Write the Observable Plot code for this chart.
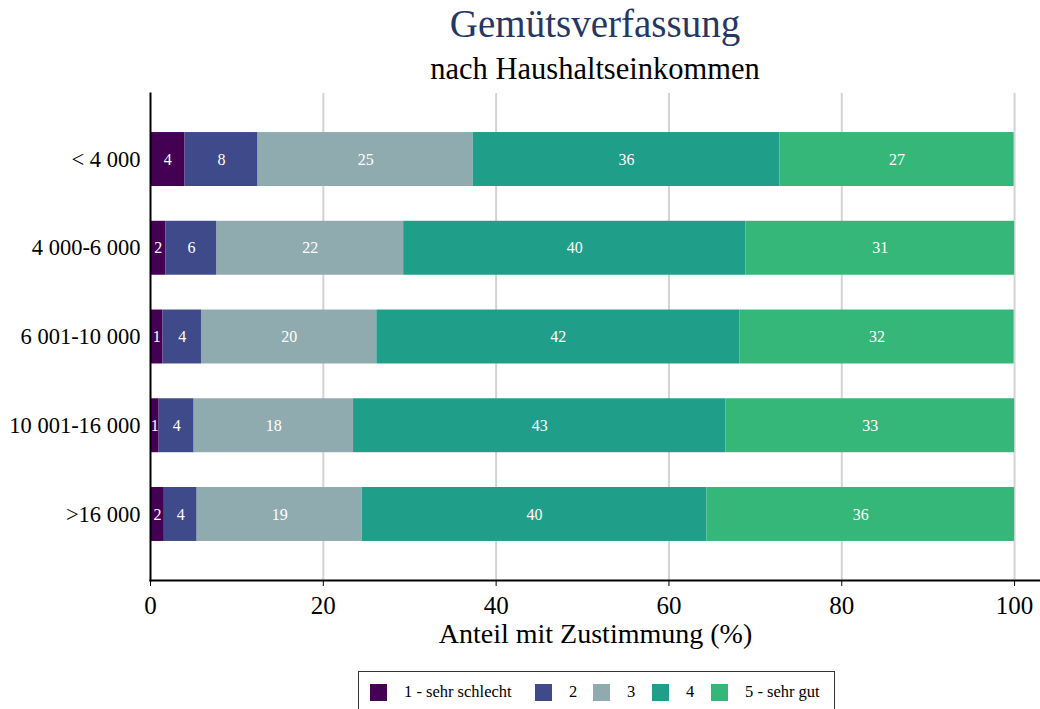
<!DOCTYPE html>
<html><head><meta charset="utf-8">
<script src="https://cdn.jsdelivr.net/npm/d3@7"></script>
<script src="https://cdn.jsdelivr.net/npm/@observablehq/plot@0.6"></script>
<style>
body{margin:0;background:#fff;font-family:"Liberation Serif",serif;color:#000;}
#wrap{width:1040px;}
#title{height:48px;line-height:48px;font-size:39px;color:#263766;text-align:center;padding-left:150px;box-sizing:border-box;white-space:nowrap;}
#subtitle{height:42px;line-height:42px;font-size:30.5px;text-align:center;padding-left:150px;box-sizing:border-box;white-space:nowrap;}
#chart svg{display:block;}
#legend{margin-left:358px;margin-top:6px;width:477px;box-sizing:border-box;border:1.5px solid #333;height:42px;display:flex;align-items:center;padding-left:11px;font-size:16.5px;white-space:nowrap;}
.item{display:flex;align-items:center;flex:none;}
.sw{width:17px;height:17px;margin-right:17px;flex:none;}
</style>
</head><body>
<div id="wrap">
<div id="title">Gemütsverfassung</div>
<div id="subtitle">nach Haushaltseinkommen</div>
<div id="chart"></div>
<div id="legend"></div>
</div>
<script>
const categories = ["< 4 000", "4 000-6 000", "6 001-10 000", "10 001-16 000", ">16 000"];
const levels = ["1 - sehr schlecht", "2", "3", "4", "5 - sehr gut"];
const colors = ["#440154", "#3e4a89", "#8fabaf", "#1f9e89", "#35b779"];
const s1 = [4.0, 1.8, 1.45, 1.0, 1.6];
const s2 = [8.45, 5.9, 4.45, 4.05, 3.8];
const s3 = [24.9, 21.6, 20.3, 18.45, 19.1];
const s4 = [35.5, 39.6, 42.0, 43.1, 39.9];
const s5 = [27.1, 31.1, 31.75, 33.4, 35.6];
const xTicks = [0, 20, 40, 60, 80, 100];
const gridTicks = [20, 40, 60, 80, 100];

const series = [s1, s2, s3, s4, s5];
const data = [];
categories.forEach((c, i) => levels.forEach((l, j) => data.push({cat: c, level: l, value: series[j][i]})));

const FF = "Liberation Serif";
const chart = Plot.plot({
  width: 1040, height: 575,
  marginLeft: 150, marginRight: 0, marginTop: 3, marginBottom: 85,
  style: {fontFamily: FF, background: "#fff", color: "#000"},
  x: {domain: [0, 103]},
  y: {domain: categories, paddingInner: 0.392, paddingOuter: 0.44, round: false},
  color: {domain: levels, range: colors},
  marks: [
    Plot.gridX(gridTicks, {stroke: "#d3d3d3", strokeOpacity: 1, strokeWidth: 2}),
    Plot.barX(data, Plot.stackX({x: "value", y: "cat", fill: "level"})),
    Plot.text(data, Plot.stackX({x: "value", y: "cat", text: d => String(Math.round(d.value)), fill: "white", fontSize: 16, fontFamily: FF})),
    Plot.axisY({tickSize: 0, tickPadding: 10, fontSize: 22.5, fontFamily: FF, label: null}),
    Plot.axisX({ticks: xTicks, tickSize: 6, tickPadding: 10, fontSize: 25, fontFamily: FF, label: "Anteil mit Zustimmung (%)", labelAnchor: "center", labelArrow: "none", labelOffset: 62, tickFormat: d => String(d)}),
    Plot.frame({anchor: "bottom", strokeWidth: 2}),
    Plot.frame({anchor: "left", strokeWidth: 2})
  ]
});
chart.querySelectorAll("text").forEach(t => { if (t.textContent === "Anteil mit Zustimmung (%)") t.setAttribute("font-size", 28); });
document.getElementById("chart").appendChild(chart);

const itemWidths = ["165px", "58px", "59px", "59px", "auto"];
const lg = document.getElementById("legend");
levels.forEach((l, j) => {
  const it = document.createElement("div"); it.className = "item"; it.style.width = itemWidths[j];
  const sw = document.createElement("div"); sw.className = "sw"; sw.style.background = colors[j];
  const tx = document.createElement("span"); tx.textContent = l;
  it.appendChild(sw); it.appendChild(tx); lg.appendChild(it);
});
</script>
</body></html>
